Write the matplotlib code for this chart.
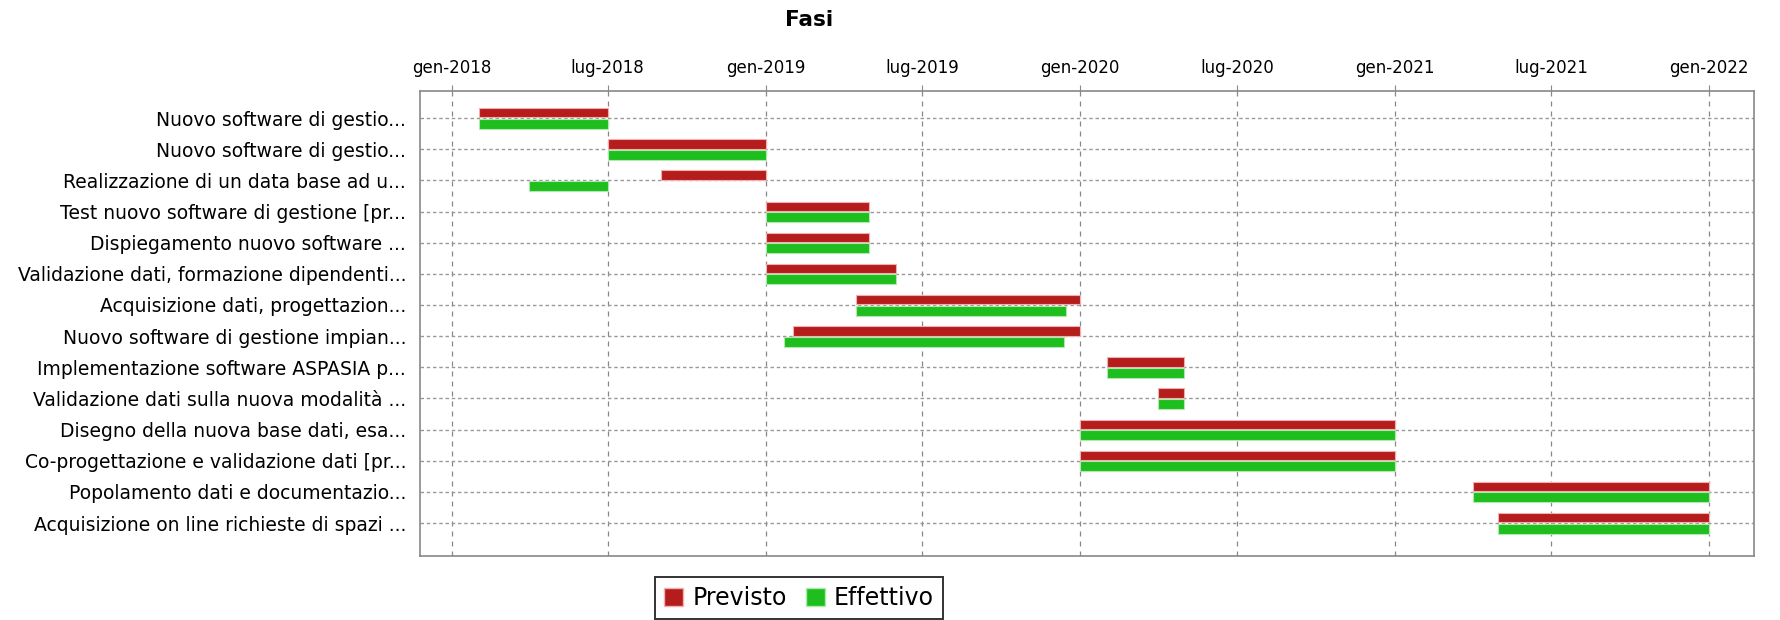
import datetime as dt
import matplotlib
matplotlib.use("Agg")
import matplotlib.pyplot as plt
import matplotlib.dates as mdates
from matplotlib.patches import Patch

# Fasi del progetto: date previste ed effettive
fasi = [
    "Nuovo software di gestio...",
    "Nuovo software di gestio...",
    "Realizzazione di un data base ad u...",
    "Test nuovo software di gestione [pr...",
    "Dispiegamento nuovo software ...",
    "Validazione dati, formazione dipendenti...",
    "Acquisizione dati, progettazion...",
    "Nuovo software di gestione impian...",
    "Implementazione software ASPASIA p...",
    "Validazione dati sulla nuova modalità ...",
    "Disegno della nuova base dati, esa...",
    "Co-progettazione e validazione dati [pr...",
    "Popolamento dati e documentazio...",
    "Acquisizione on line richieste di spazi ...",
]

previsto_inizio = ["2018-02-01", "2018-07-01", "2018-09-01", "2019-01-01", "2019-01-01",
                   "2019-01-01", "2019-04-15", "2019-02-01", "2020-02-01", "2020-04-01",
                   "2020-01-01", "2020-01-01", "2021-04-01", "2021-05-01"]
previsto_fine = ["2018-07-01", "2019-01-01", "2019-01-01", "2019-05-01", "2019-05-01",
                 "2019-06-01", "2020-01-01", "2020-01-01", "2020-05-01", "2020-05-01",
                 "2021-01-01", "2021-01-01", "2022-01-01", "2022-01-01"]

effettivo_inizio = ["2018-02-01", "2018-07-01", "2018-04-01", "2019-01-01", "2019-01-01",
                    "2019-01-01", "2019-04-15", "2019-01-22", "2020-02-01", "2020-04-01",
                    "2020-01-01", "2020-01-01", "2021-04-01", "2021-05-01"]
effettivo_fine = ["2018-07-01", "2019-01-01", "2018-07-01", "2019-05-01", "2019-05-01",
                  "2019-06-01", "2019-12-16", "2019-12-13", "2020-05-01", "2020-05-01",
                  "2021-01-01", "2021-01-01", "2022-01-01", "2022-01-01"]

mesi = {1: "gen", 7: "lug"}

rosso = "#b51c1c"
verde = "#1dbe1d"


def to_num(lista):
    return mdates.date2num([dt.datetime.strptime(d, "%Y-%m-%d") for d in lista])


p0, p1 = to_num(previsto_inizio), to_num(previsto_fine)
e0, e1 = to_num(effettivo_inizio), to_num(effettivo_fine)
y = list(range(len(fasi)))

fig = plt.figure(figsize=(17.8, 6.2), dpi=100)
ax = fig.add_axes([0.236, 0.1032, 0.7494, 0.75])

ax.barh([i - 0.17 for i in y], p1 - p0, left=p0, height=0.3,
        color=rosso, edgecolor="#f0b0b0", linewidth=0.8, zorder=3)
ax.barh([i + 0.18 for i in y], e1 - e0, left=e0, height=0.32,
        color=verde, edgecolor="#b0e8b0", linewidth=0.8, zorder=3)

ax.set_ylim(14.06, -0.87)
ax.set_yticks(y)
ax.set_yticklabels(fasi, fontsize=13.5)
ax.tick_params(axis="y", length=0, pad=10)

ax.set_xlim(mdates.date2num(dt.datetime(2017, 11, 25)),
            mdates.date2num(dt.datetime(2022, 2, 22)))
ax.xaxis.tick_top()
ax.xaxis.set_major_locator(mdates.MonthLocator(bymonth=[1, 7]))
ax.xaxis.set_major_formatter(plt.FuncFormatter(
    lambda v, pos: "%s-%d" % (mesi[mdates.num2date(v).month], mdates.num2date(v).year)))
ax.tick_params(axis="x", labelsize=12, length=4, color="#888888", pad=6)

ax.grid(True, axis="x", color="#888888", linestyle=(0, (4, 4)), linewidth=0.9, zorder=1)
ax.grid(True, axis="y", color="#999999", linestyle=(0, (2.5, 2)), linewidth=1.0, zorder=1)

for s in ax.spines.values():
    s.set_color("#888888")
    s.set_linewidth(1.2)

fig.text(0.4545, 0.967, "Fasi", ha="center", va="center", fontsize=15.5, fontweight="bold")

handles = [Patch(facecolor=rosso, edgecolor="#f0b0b0", label="Previsto"),
           Patch(facecolor=verde, edgecolor="#b0e8b0", label="Effettivo")]
leg = fig.legend(handles=handles, loc="center", bbox_to_anchor=(0.4489, 0.0355), ncol=2,
                 fontsize=17, frameon=True, fancybox=False, handlelength=0.8,
                 handleheight=0.8, handletextpad=0.4, columnspacing=0.8,
                 borderpad=0.4, borderaxespad=0)
leg.get_frame().set_edgecolor("black")
leg.get_frame().set_linewidth(1.4)

fig.savefig("out.png", dpi=100)
